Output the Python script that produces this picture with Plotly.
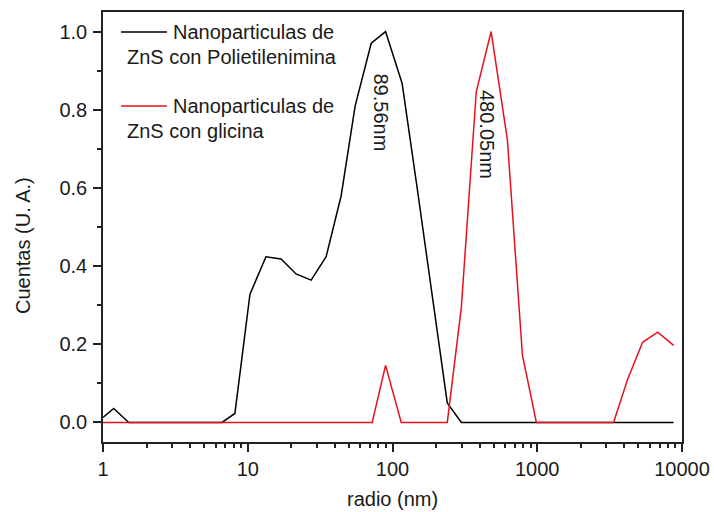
import plotly.graph_objects as go

# ---- data ----
pei_radius = [1.0, 1.186, 1.506, 6.64, 8.15, 10.36, 13.36, 16.98, 21.57, 27.4, 34.8,
              44.2, 55.2, 71.3, 89.56, 116.6, 148, 188, 239, 299, 8750]
pei_counts = [0.013, 0.036, 0.0, 0.0, 0.023, 0.328, 0.424, 0.418, 0.38, 0.364, 0.424,
              0.58, 0.81, 0.97, 1.0, 0.867, 0.60, 0.33, 0.05, 0.0, 0.0]

gly_radius = [1.0, 72.4, 89.56, 114.9, 239, 299, 379, 480.05, 622, 790, 986,
              3365, 4207, 5345, 6792, 8750]
gly_counts = [0.0, 0.0, 0.146, 0.0, 0.0, 0.295, 0.846, 1.0, 0.723, 0.172, 0.0,
              0.0, 0.11, 0.205, 0.231, 0.197]

series_names = ["Nanoparticulas de ZnS con Polietilenimina", "Nanoparticulas de ZnS con glicina"]
series_colors = ["#000000", "#e8101a"]
peak_labels = ["89.56nm", "480.05nm"]
x_tickvals = [1, 10, 100, 1000, 10000]
x_ticktext = ["1", "10", "100", "1000", "10000"]

FONT = "Liberation Sans, Arial, sans-serif"
TXT = "#1a1a1a"

fig = go.Figure()
fig.add_trace(go.Scatter(x=pei_radius, y=pei_counts, mode="lines", name=series_names[0],
                         line=dict(color=series_colors[0], width=1.5), showlegend=False))
fig.add_trace(go.Scatter(x=gly_radius, y=gly_counts, mode="lines", name=series_names[1],
                         line=dict(color=series_colors[1], width=1.5), showlegend=False))

# geometry helpers (pixel -> paper) for the plot box 103..682 x 12..442
L, R, T, B = 103, 682, 12, 442
def px(x):
    return (x - L) / (R - L)
def py(y):
    return (B - y) / (B - T)

shapes = []
annotations = []
# manual legend
legend_rows = [
    (series_colors[0], 32, "Nanoparticulas de", "ZnS con Polietilenimina", 57),
    (series_colors[1], 106, "Nanoparticulas de", "ZnS con glicina", 131),
]
for color, yl, t1, t2, y2 in legend_rows:
    shapes.append(dict(type="line", xref="paper", yref="paper",
                       x0=px(121), x1=px(167), y0=py(yl), y1=py(yl),
                       line=dict(color=color, width=1.5)))
    annotations.append(dict(xref="paper", yref="paper", x=px(171), y=py(yl), text=t1,
                            showarrow=False, xanchor="left", yanchor="middle",
                            font=dict(family=FONT, size=20, color=TXT)))
    annotations.append(dict(xref="paper", yref="paper", x=px(125), y=py(y2), text=t2,
                            showarrow=False, xanchor="left", yanchor="middle",
                            font=dict(family=FONT, size=20, color=TXT)))

# peak labels (rotated)
for text, cx, cy in [(peak_labels[0], 380.5, 112), (peak_labels[1], 487, 134)]:
    annotations.append(dict(xref="paper", yref="paper", x=px(cx), y=py(cy), text=text,
                            showarrow=False, textangle=90, xanchor="center", yanchor="middle",
                            font=dict(family=FONT, size=20, color=TXT)))

# axis titles
annotations.append(dict(xref="paper", yref="paper", x=px(23), y=py(246),
                        text="Cuentas (U. A.)", showarrow=False, textangle=-90,
                        xanchor="center", yanchor="middle",
                        font=dict(family=FONT, size=20, color=TXT)))
annotations.append(dict(xref="paper", yref="paper", x=px(392), y=py(499),
                        text="radio (nm)", showarrow=False,
                        xanchor="center", yanchor="middle",
                        font=dict(family=FONT, size=20, color=TXT)))

fig.update_layout(
    width=714, height=512,
    margin=dict(l=L, r=714 - R, t=T, b=512 - B, autoexpand=False),
    paper_bgcolor="white", plot_bgcolor="white",
    font=dict(family=FONT, size=20, color=TXT),
    shapes=shapes, annotations=annotations,
    showlegend=False,
)
fig.update_xaxes(
    type="log", range=[0, 4], automargin=False,
    tickvals=x_tickvals, ticktext=x_ticktext,
    ticks="outside", ticklen=8, tickwidth=1.5, tickcolor="#222",
    minor=dict(ticks="outside", ticklen=4, tickwidth=1.5, tickcolor="#222", dtick="D1", showgrid=False),
    showline=True, linecolor="#222", linewidth=1.5, mirror=True,
    showgrid=False, zeroline=False,
    tickfont=dict(family=FONT, size=20, color=TXT),
)
fig.update_yaxes(
    range=[-0.05, 1.05], dtick=0.2, tick0=0, tickformat=".1f", automargin=False,
    ticks="outside", ticklen=8, tickwidth=1.5, tickcolor="#222", ticklabelstandoff=2,
    minor=dict(ticks="outside", ticklen=4, tickwidth=1.5, tickcolor="#222", dtick=0.1, showgrid=False),
    showline=True, linecolor="#222", linewidth=1.5, mirror=True,
    showgrid=False, zeroline=False,
    tickfont=dict(family=FONT, size=20, color=TXT),
)

fig.write_html("out.html")
